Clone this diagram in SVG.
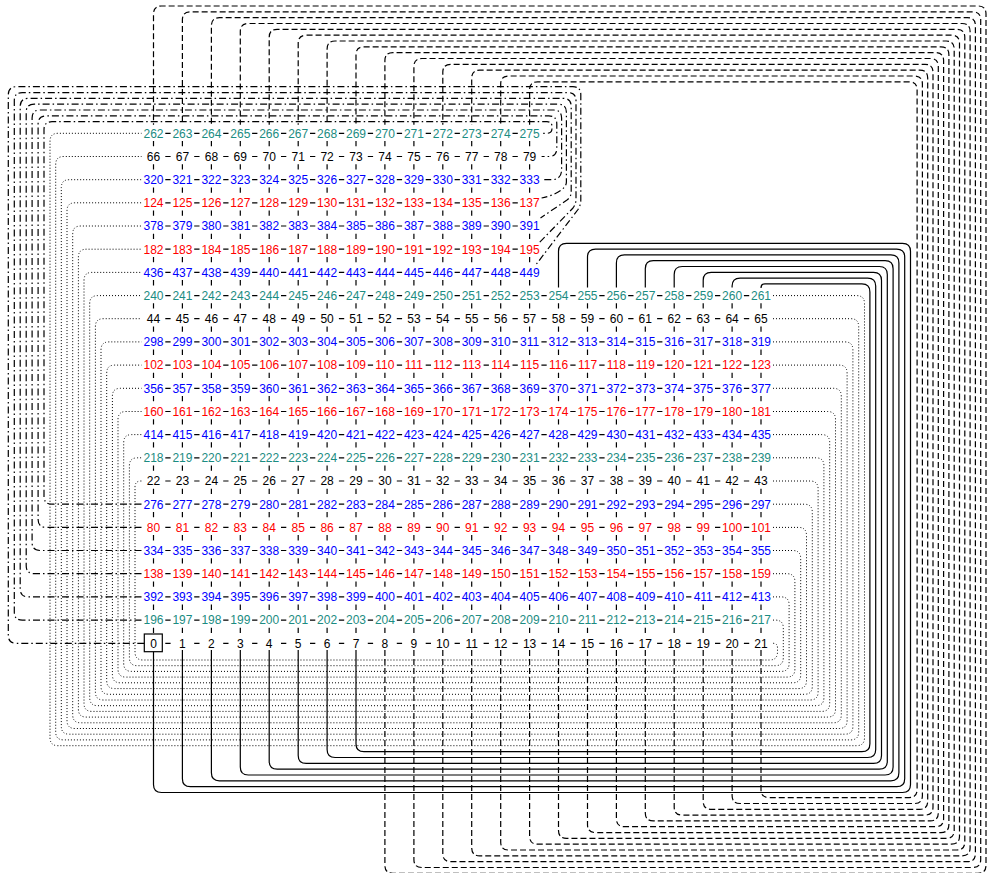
<svg xmlns="http://www.w3.org/2000/svg" width="990" height="873" viewBox="0 0 990 873">
<style>
.l{fill:none;stroke:#000;stroke-width:1.2}
.d{stroke-dasharray:6 3}
.dd{stroke-dasharray:7 3 1.5 3}
.o{stroke-dasharray:1 2;stroke-width:1}
text{font-family:"Liberation Sans",Arial,sans-serif;font-size:12px;text-anchor:middle}
.k{fill:#000}.r{fill:#f00}.b{fill:#00f}.t{fill:#1b8c82}
</style>
<defs>
<path id="h14" d="M165.3 0h5.3M194.2 0h5.3M223.2 0h5.3M252.1 0h5.3M281 0h5.3M310 0h5.3M338.9 0h5.3M367.8 0h5.3M396.8 0h5.3M425.7 0h5.3M454.6 0h5.3M483.6 0h5.3M512.5 0h5.3"/>
<path id="h22" d="M165.3 0h5.3M194.2 0h5.3M223.2 0h5.3M252.1 0h5.3M281 0h5.3M310 0h5.3M338.9 0h5.3M367.8 0h5.3M396.8 0h5.3M425.7 0h5.3M454.6 0h5.3M483.6 0h5.3M512.5 0h5.3M541.4 0h5.3M570.3 0h5.3M599.3 0h5.3M628.2 0h5.3M657.1 0h5.3M686.1 0h5.3M715 0h5.3M743.9 0h5.3"/>
<path id="v14" d="M153.5 0v5.3M182.4 0v5.3M211.4 0v5.3M240.3 0v5.3M269.2 0v5.3M298.2 0v5.3M327.1 0v5.3M356 0v5.3M384.9 0v5.3M413.9 0v5.3M442.8 0v5.3M471.7 0v5.3M500.7 0v5.3M529.6 0v5.3"/>
<path id="v22" d="M153.5 0v5.3M182.4 0v5.3M211.4 0v5.3M240.3 0v5.3M269.2 0v5.3M298.2 0v5.3M327.1 0v5.3M356 0v5.3M384.9 0v5.3M413.9 0v5.3M442.8 0v5.3M471.7 0v5.3M500.7 0v5.3M529.6 0v5.3M558.5 0v5.3M587.5 0v5.3M616.4 0v5.3M645.3 0v5.3M674.2 0v5.3M703.2 0v5.3M732.1 0v5.3M761 0v5.3"/>
</defs>
<rect width="990" height="873" fill="#fff"/>
<g id="connectors" class="l">
<g id="ticks">
<use href="#h14" y="133.3"/><use href="#h14" y="156.5"/><use href="#h14" y="179.7"/><use href="#h14" y="202.8"/><use href="#h14" y="226"/><use href="#h14" y="249.2"/><use href="#h14" y="272.4"/>
<use href="#h22" y="295.6"/><use href="#h22" y="318.7"/><use href="#h22" y="341.9"/><use href="#h22" y="365.1"/><use href="#h22" y="388.3"/><use href="#h22" y="411.5"/><use href="#h22" y="434.6"/><use href="#h22" y="457.8"/><use href="#h22" y="481"/><use href="#h22" y="504.2"/><use href="#h22" y="527.4"/><use href="#h22" y="550.5"/><use href="#h22" y="573.7"/><use href="#h22" y="596.9"/><use href="#h22" y="620.1"/><use href="#h22" y="643.3"/>
<use href="#v14" y="141"/><use href="#v14" y="164.2"/><use href="#v14" y="187.4"/><use href="#v14" y="210.5"/><use href="#v14" y="233.7"/><use href="#v14" y="256.9"/><use href="#v14" y="280.1"/>
<use href="#v22" y="303.3"/><use href="#v22" y="326.4"/><use href="#v22" y="349.6"/><use href="#v22" y="372.8"/><use href="#v22" y="396"/><use href="#v22" y="419.2"/><use href="#v22" y="442.3"/><use href="#v22" y="465.5"/><use href="#v22" y="488.7"/><use href="#v22" y="511.9"/><use href="#v22" y="535.1"/><use href="#v22" y="558.2"/><use href="#v22" y="581.4"/><use href="#v22" y="604.6"/><use href="#v22" y="627.8"/>
</g>
<g id="solid">
<path d="M153.5 651.7V784.5Q153.5 792.5 161.5 792.5H902.5Q910.5 792.5 910.5 784.5V251.3Q910.5 243.3 902.5 243.3H566.5Q558.5 243.3 558.5 251.3V287.5"/>
<path d="M182.4 650V778.7Q182.4 786.7 190.4 786.7H896.7Q904.7 786.7 904.7 778.7V257.1Q904.7 249.1 896.7 249.1H595.5Q587.5 249.1 587.5 257.1V287.5"/>
<path d="M211.4 650V772.8Q211.4 780.8 219.4 780.8H890.9Q898.9 780.8 898.9 772.8V262.9Q898.9 254.9 890.9 254.9H624.4Q616.4 254.9 616.4 262.9V287.5"/>
<path d="M240.3 650V767Q240.3 775 248.3 775H885.1Q893.1 775 893.1 767V268.7Q893.1 260.7 885.1 260.7H653.3Q645.3 260.7 645.3 268.7V287.5"/>
<path d="M269.2 650V761.2Q269.2 769.2 277.2 769.2H879.3Q887.3 769.2 887.3 761.2V274.5Q887.3 266.5 879.3 266.5H682.2Q674.2 266.5 674.2 274.5V287.5"/>
<path d="M298.2 650V755.4Q298.2 763.4 306.2 763.4H873.5Q881.5 763.4 881.5 755.4V280.3Q881.5 272.3 873.5 272.3H711.2Q703.2 272.3 703.2 280.3V287.5"/>
<path d="M327.1 650V749.5Q327.1 757.5 335.1 757.5H867.7Q875.7 757.5 875.7 749.5V286.1Q875.7 278.1 867.7 278.1H740.1Q732.1 278.1 732.1 286.1V287.5"/>
<path d="M356 650V743.7Q356 751.7 364 751.7H861.9Q869.9 751.7 869.9 743.7V291.9Q869.9 283.9 861.9 283.9H765Q761 283.9 761 287.9V288"/>
</g>
<g id="dashed" class="d">
<path d="M384.9 650V865.3Q384.9 873.3 392.9 873.3H978Q986 873.3 986 865.3V14Q986 6 978 6H161.5Q153.5 6 153.5 14V124.8"/>
<path d="M413.9 650V859.5Q413.9 867.5 421.9 867.5H972.7Q980.7 867.5 980.7 859.5V19.8Q980.7 11.8 972.7 11.8H190.4Q182.4 11.8 182.4 19.8V124.8"/>
<path d="M442.8 650V853.7Q442.8 861.7 450.8 861.7H967.4Q975.4 861.7 975.4 853.7V25.7Q975.4 17.7 967.4 17.7H219.4Q211.4 17.7 211.4 25.7V124.8"/>
<path d="M471.7 650V847.8Q471.7 855.8 479.7 855.8H962.1Q970.1 855.8 970.1 847.8V31.5Q970.1 23.5 962.1 23.5H248.3Q240.3 23.5 240.3 31.5V124.8"/>
<path d="M500.7 650V842Q500.7 850 508.7 850H956.8Q964.8 850 964.8 842V37.3Q964.8 29.3 956.8 29.3H277.2Q269.2 29.3 269.2 37.3V124.8"/>
<path d="M529.6 650V836.2Q529.6 844.2 537.6 844.2H951.5Q959.5 844.2 959.5 836.2V43.2Q959.5 35.2 951.5 35.2H306.2Q298.2 35.2 298.2 43.2V124.8"/>
<path d="M558.5 650V830.4Q558.5 838.4 566.5 838.4H946.2Q954.2 838.4 954.2 830.4V49Q954.2 41 946.2 41H335.1Q327.1 41 327.1 49V124.8"/>
<path d="M587.5 650V824.6Q587.5 832.6 595.5 832.6H940.9Q948.9 832.6 948.9 824.6V54.8Q948.9 46.8 940.9 46.8H364Q356 46.8 356 54.8V124.8"/>
<path d="M616.4 650V818.7Q616.4 826.7 624.4 826.7H935.6Q943.6 826.7 943.6 818.7V60.6Q943.6 52.6 935.6 52.6H392.9Q384.9 52.6 384.9 60.6V124.8"/>
<path d="M645.3 650V812.9Q645.3 820.9 653.3 820.9H930.3Q938.3 820.9 938.3 812.9V66.5Q938.3 58.5 930.3 58.5H421.9Q413.9 58.5 413.9 66.5V124.8"/>
<path d="M674.2 650V807.1Q674.2 815.1 682.2 815.1H925Q933 815.1 933 807.1V72.3Q933 64.3 925 64.3H450.8Q442.8 64.3 442.8 72.3V124.8"/>
<path d="M703.2 650V801.3Q703.2 809.3 711.2 809.3H919.7Q927.7 809.3 927.7 801.3V78.1Q927.7 70.1 919.7 70.1H479.7Q471.7 70.1 471.7 78.1V124.8"/>
<path d="M732.1 650V795.5Q732.1 803.5 740.1 803.5H914.4Q922.4 803.5 922.4 795.5V84Q922.4 76 914.4 76H508.7Q500.7 76 500.7 84V124.8"/>
<path d="M761 650V789.6Q761 797.6 769 797.6H909.1Q917.1 797.6 917.1 789.6V89.8Q917.1 81.8 909.1 81.8H537.6Q529.6 81.8 529.6 89.8V124.8"/>
</g>
<g id="dashdot" class="dd">
<path d="M141.5 504.2H52Q44 504.2 44 496.2V129.7Q44 121.7 52 121.7H547Q552 121.7 552 126.7V128.3Q552 133.3 547 133.3H541.6"/>
<path d="M141.5 527.4H46.1Q38.1 527.4 38.1 519.4V123.9Q38.1 115.9 46.1 115.9H548.8Q556.8 115.9 556.8 123.9V148.5Q556.8 156.5 548.8 156.5H541.6"/>
<path d="M141.5 550.5H40.1Q32.1 550.5 32.1 542.5V118Q32.1 110 40.1 110H553.6Q561.6 110 561.6 118V169.7Q561.6 179.7 551.6 179.7H541.6"/>
<path d="M141.5 573.7H34.2Q26.2 573.7 26.2 565.7V112.2Q26.2 104.2 34.2 104.2H558.4Q566.4 104.2 566.4 112.2V182C566.4 190 552 196 541.6 198"/>
<path d="M141.5 596.9H28.2Q20.2 596.9 20.2 588.9V106.4Q20.2 98.4 28.2 98.4H563.2Q571.2 98.4 571.2 106.4V192Q571.2 197 567 200L540.5 218"/>
<path d="M141.5 620.1H22.3Q14.3 620.1 14.3 612.1V100.6Q14.3 92.6 22.3 92.6H568Q576 92.6 576 100.6V199Q576 204 573 208L538 244"/>
<path d="M144.3 643.3H16.3Q8.3 643.3 8.3 635.3V94.7Q8.3 86.7 16.3 86.7H572.8Q580.8 86.7 580.8 94.7V200Q580.8 205 578 209.5L536.5 264"/>
</g>
<g id="dotted" class="o">
<path d="M773 295.6H856.5Q864.5 295.6 864.5 303.6V737.7Q864.5 745.7 856.5 745.7H58Q50 745.7 50 737.7V141.3Q50 133.3 58 133.3H141.5"/>
<path d="M773 318.7H850.7Q858.7 318.7 858.7 326.7V731.9Q858.7 739.9 850.7 739.9H63.7Q55.7 739.9 55.7 731.9V164.5Q55.7 156.5 63.7 156.5H141.5"/>
<path d="M773 341.9H844.9Q852.9 341.9 852.9 349.9V726.2Q852.9 734.2 844.9 734.2H69.3Q61.3 734.2 61.3 726.2V187.7Q61.3 179.7 69.3 179.7H141.5"/>
<path d="M773 365.1H839.1Q847.1 365.1 847.1 373.1V720.5Q847.1 728.5 839.1 728.5H75Q67 728.5 67 720.5V210.8Q67 202.8 75 202.8H141.5"/>
<path d="M773 388.3H833.3Q841.3 388.3 841.3 396.3V714.8Q841.3 722.8 833.3 722.8H80.7Q72.7 722.8 72.7 714.8V234Q72.7 226 80.7 226H141.5"/>
<path d="M773 411.5H827.5Q835.5 411.5 835.5 419.5V709.1Q835.5 717.1 827.5 717.1H86.4Q78.4 717.1 78.4 709.1V257.2Q78.4 249.2 86.4 249.2H141.5"/>
<path d="M773 434.6H821.7Q829.7 434.6 829.7 442.6V703.4Q829.7 711.4 821.7 711.4H92Q84 711.4 84 703.4V280.4Q84 272.4 92 272.4H141.5"/>
<path d="M773 457.8H815.9Q823.9 457.8 823.9 465.8V697.7Q823.9 705.7 815.9 705.7H97.7Q89.7 705.7 89.7 697.7V303.6Q89.7 295.6 97.7 295.6H141.5"/>
<path d="M773 481H810.1Q818.1 481 818.1 489V692Q818.1 700 810.1 700H103.4Q95.4 700 95.4 692V326.7Q95.4 318.7 103.4 318.7H141.5"/>
<path d="M773 504.2H804.3Q812.3 504.2 812.3 512.2V686.3Q812.3 694.3 804.3 694.3H109Q101 694.3 101 686.3V349.9Q101 341.9 109 341.9H141.5"/>
<path d="M773 527.4H798.5Q806.5 527.4 806.5 535.4V680.6Q806.5 688.6 798.5 688.6H114.7Q106.7 688.6 106.7 680.6V373.1Q106.7 365.1 114.7 365.1H141.5"/>
<path d="M773 550.5H792.7Q800.7 550.5 800.7 558.5V674.8Q800.7 682.8 792.7 682.8H120.4Q112.4 682.8 112.4 674.8V396.3Q112.4 388.3 120.4 388.3H141.5"/>
<path d="M773 573.7H786.9Q794.9 573.7 794.9 581.7V669.1Q794.9 677.1 786.9 677.1H126Q118 677.1 118 669.1V419.5Q118 411.5 126 411.5H141.5"/>
<path d="M773 596.9H781.1Q789.1 596.9 789.1 604.9V663.4Q789.1 671.4 781.1 671.4H131.7Q123.7 671.4 123.7 663.4V442.6Q123.7 434.6 131.7 434.6H141.5"/>
<path d="M773 620.1H775.3Q783.3 620.1 783.3 628.1V657.7Q783.3 665.7 775.3 665.7H137.4Q129.4 665.7 129.4 657.7V465.8Q129.4 457.8 137.4 457.8H141.5"/>
<path d="M773 643.3Q777.5 643.3 777.5 647.8V652Q777.5 660 769.5 660H143Q135 660 135 652V487Q135 481 141 481H141.5"/>
</g>
</g>
<g id="nodes">
<g class="t" transform="translate(0,137.6)"><g id="n262"><text x="153.5">262</text></g><g id="n263"><text x="182.4">263</text></g><g id="n264"><text x="211.4">264</text></g><g id="n265"><text x="240.3">265</text></g><g id="n266"><text x="269.2">266</text></g><g id="n267"><text x="298.2">267</text></g><g id="n268"><text x="327.1">268</text></g><g id="n269"><text x="356">269</text></g><g id="n270"><text x="384.9">270</text></g><g id="n271"><text x="413.9">271</text></g><g id="n272"><text x="442.8">272</text></g><g id="n273"><text x="471.7">273</text></g><g id="n274"><text x="500.7">274</text></g><g id="n275"><text x="529.6">275</text></g></g>
<g class="k" transform="translate(0,160.8)"><g id="n66"><text x="153.5">66</text></g><g id="n67"><text x="182.4">67</text></g><g id="n68"><text x="211.4">68</text></g><g id="n69"><text x="240.3">69</text></g><g id="n70"><text x="269.2">70</text></g><g id="n71"><text x="298.2">71</text></g><g id="n72"><text x="327.1">72</text></g><g id="n73"><text x="356">73</text></g><g id="n74"><text x="384.9">74</text></g><g id="n75"><text x="413.9">75</text></g><g id="n76"><text x="442.8">76</text></g><g id="n77"><text x="471.7">77</text></g><g id="n78"><text x="500.7">78</text></g><g id="n79"><text x="529.6">79</text></g></g>
<g class="b" transform="translate(0,184)"><g id="n320"><text x="153.5">320</text></g><g id="n321"><text x="182.4">321</text></g><g id="n322"><text x="211.4">322</text></g><g id="n323"><text x="240.3">323</text></g><g id="n324"><text x="269.2">324</text></g><g id="n325"><text x="298.2">325</text></g><g id="n326"><text x="327.1">326</text></g><g id="n327"><text x="356">327</text></g><g id="n328"><text x="384.9">328</text></g><g id="n329"><text x="413.9">329</text></g><g id="n330"><text x="442.8">330</text></g><g id="n331"><text x="471.7">331</text></g><g id="n332"><text x="500.7">332</text></g><g id="n333"><text x="529.6">333</text></g></g>
<g class="r" transform="translate(0,207.1)"><g id="n124"><text x="153.5">124</text></g><g id="n125"><text x="182.4">125</text></g><g id="n126"><text x="211.4">126</text></g><g id="n127"><text x="240.3">127</text></g><g id="n128"><text x="269.2">128</text></g><g id="n129"><text x="298.2">129</text></g><g id="n130"><text x="327.1">130</text></g><g id="n131"><text x="356">131</text></g><g id="n132"><text x="384.9">132</text></g><g id="n133"><text x="413.9">133</text></g><g id="n134"><text x="442.8">134</text></g><g id="n135"><text x="471.7">135</text></g><g id="n136"><text x="500.7">136</text></g><g id="n137"><text x="529.6">137</text></g></g>
<g class="b" transform="translate(0,230.3)"><g id="n378"><text x="153.5">378</text></g><g id="n379"><text x="182.4">379</text></g><g id="n380"><text x="211.4">380</text></g><g id="n381"><text x="240.3">381</text></g><g id="n382"><text x="269.2">382</text></g><g id="n383"><text x="298.2">383</text></g><g id="n384"><text x="327.1">384</text></g><g id="n385"><text x="356">385</text></g><g id="n386"><text x="384.9">386</text></g><g id="n387"><text x="413.9">387</text></g><g id="n388"><text x="442.8">388</text></g><g id="n389"><text x="471.7">389</text></g><g id="n390"><text x="500.7">390</text></g><g id="n391"><text x="529.6">391</text></g></g>
<g class="r" transform="translate(0,253.5)"><g id="n182"><text x="153.5">182</text></g><g id="n183"><text x="182.4">183</text></g><g id="n184"><text x="211.4">184</text></g><g id="n185"><text x="240.3">185</text></g><g id="n186"><text x="269.2">186</text></g><g id="n187"><text x="298.2">187</text></g><g id="n188"><text x="327.1">188</text></g><g id="n189"><text x="356">189</text></g><g id="n190"><text x="384.9">190</text></g><g id="n191"><text x="413.9">191</text></g><g id="n192"><text x="442.8">192</text></g><g id="n193"><text x="471.7">193</text></g><g id="n194"><text x="500.7">194</text></g><g id="n195"><text x="529.6">195</text></g></g>
<g class="b" transform="translate(0,276.7)"><g id="n436"><text x="153.5">436</text></g><g id="n437"><text x="182.4">437</text></g><g id="n438"><text x="211.4">438</text></g><g id="n439"><text x="240.3">439</text></g><g id="n440"><text x="269.2">440</text></g><g id="n441"><text x="298.2">441</text></g><g id="n442"><text x="327.1">442</text></g><g id="n443"><text x="356">443</text></g><g id="n444"><text x="384.9">444</text></g><g id="n445"><text x="413.9">445</text></g><g id="n446"><text x="442.8">446</text></g><g id="n447"><text x="471.7">447</text></g><g id="n448"><text x="500.7">448</text></g><g id="n449"><text x="529.6">449</text></g></g>
<g class="t" transform="translate(0,299.9)"><g id="n240"><text x="153.5">240</text></g><g id="n241"><text x="182.4">241</text></g><g id="n242"><text x="211.4">242</text></g><g id="n243"><text x="240.3">243</text></g><g id="n244"><text x="269.2">244</text></g><g id="n245"><text x="298.2">245</text></g><g id="n246"><text x="327.1">246</text></g><g id="n247"><text x="356">247</text></g><g id="n248"><text x="384.9">248</text></g><g id="n249"><text x="413.9">249</text></g><g id="n250"><text x="442.8">250</text></g><g id="n251"><text x="471.7">251</text></g><g id="n252"><text x="500.7">252</text></g><g id="n253"><text x="529.6">253</text></g><g id="n254"><text x="558.5">254</text></g><g id="n255"><text x="587.5">255</text></g><g id="n256"><text x="616.4">256</text></g><g id="n257"><text x="645.3">257</text></g><g id="n258"><text x="674.2">258</text></g><g id="n259"><text x="703.2">259</text></g><g id="n260"><text x="732.1">260</text></g><g id="n261"><text x="761">261</text></g></g>
<g class="k" transform="translate(0,323)"><g id="n44"><text x="153.5">44</text></g><g id="n45"><text x="182.4">45</text></g><g id="n46"><text x="211.4">46</text></g><g id="n47"><text x="240.3">47</text></g><g id="n48"><text x="269.2">48</text></g><g id="n49"><text x="298.2">49</text></g><g id="n50"><text x="327.1">50</text></g><g id="n51"><text x="356">51</text></g><g id="n52"><text x="384.9">52</text></g><g id="n53"><text x="413.9">53</text></g><g id="n54"><text x="442.8">54</text></g><g id="n55"><text x="471.7">55</text></g><g id="n56"><text x="500.7">56</text></g><g id="n57"><text x="529.6">57</text></g><g id="n58"><text x="558.5">58</text></g><g id="n59"><text x="587.5">59</text></g><g id="n60"><text x="616.4">60</text></g><g id="n61"><text x="645.3">61</text></g><g id="n62"><text x="674.2">62</text></g><g id="n63"><text x="703.2">63</text></g><g id="n64"><text x="732.1">64</text></g><g id="n65"><text x="761">65</text></g></g>
<g class="b" transform="translate(0,346.2)"><g id="n298"><text x="153.5">298</text></g><g id="n299"><text x="182.4">299</text></g><g id="n300"><text x="211.4">300</text></g><g id="n301"><text x="240.3">301</text></g><g id="n302"><text x="269.2">302</text></g><g id="n303"><text x="298.2">303</text></g><g id="n304"><text x="327.1">304</text></g><g id="n305"><text x="356">305</text></g><g id="n306"><text x="384.9">306</text></g><g id="n307"><text x="413.9">307</text></g><g id="n308"><text x="442.8">308</text></g><g id="n309"><text x="471.7">309</text></g><g id="n310"><text x="500.7">310</text></g><g id="n311"><text x="529.6">311</text></g><g id="n312"><text x="558.5">312</text></g><g id="n313"><text x="587.5">313</text></g><g id="n314"><text x="616.4">314</text></g><g id="n315"><text x="645.3">315</text></g><g id="n316"><text x="674.2">316</text></g><g id="n317"><text x="703.2">317</text></g><g id="n318"><text x="732.1">318</text></g><g id="n319"><text x="761">319</text></g></g>
<g class="r" transform="translate(0,369.4)"><g id="n102"><text x="153.5">102</text></g><g id="n103"><text x="182.4">103</text></g><g id="n104"><text x="211.4">104</text></g><g id="n105"><text x="240.3">105</text></g><g id="n106"><text x="269.2">106</text></g><g id="n107"><text x="298.2">107</text></g><g id="n108"><text x="327.1">108</text></g><g id="n109"><text x="356">109</text></g><g id="n110"><text x="384.9">110</text></g><g id="n111"><text x="413.9">111</text></g><g id="n112"><text x="442.8">112</text></g><g id="n113"><text x="471.7">113</text></g><g id="n114"><text x="500.7">114</text></g><g id="n115"><text x="529.6">115</text></g><g id="n116"><text x="558.5">116</text></g><g id="n117"><text x="587.5">117</text></g><g id="n118"><text x="616.4">118</text></g><g id="n119"><text x="645.3">119</text></g><g id="n120"><text x="674.2">120</text></g><g id="n121"><text x="703.2">121</text></g><g id="n122"><text x="732.1">122</text></g><g id="n123"><text x="761">123</text></g></g>
<g class="b" transform="translate(0,392.6)"><g id="n356"><text x="153.5">356</text></g><g id="n357"><text x="182.4">357</text></g><g id="n358"><text x="211.4">358</text></g><g id="n359"><text x="240.3">359</text></g><g id="n360"><text x="269.2">360</text></g><g id="n361"><text x="298.2">361</text></g><g id="n362"><text x="327.1">362</text></g><g id="n363"><text x="356">363</text></g><g id="n364"><text x="384.9">364</text></g><g id="n365"><text x="413.9">365</text></g><g id="n366"><text x="442.8">366</text></g><g id="n367"><text x="471.7">367</text></g><g id="n368"><text x="500.7">368</text></g><g id="n369"><text x="529.6">369</text></g><g id="n370"><text x="558.5">370</text></g><g id="n371"><text x="587.5">371</text></g><g id="n372"><text x="616.4">372</text></g><g id="n373"><text x="645.3">373</text></g><g id="n374"><text x="674.2">374</text></g><g id="n375"><text x="703.2">375</text></g><g id="n376"><text x="732.1">376</text></g><g id="n377"><text x="761">377</text></g></g>
<g class="r" transform="translate(0,415.8)"><g id="n160"><text x="153.5">160</text></g><g id="n161"><text x="182.4">161</text></g><g id="n162"><text x="211.4">162</text></g><g id="n163"><text x="240.3">163</text></g><g id="n164"><text x="269.2">164</text></g><g id="n165"><text x="298.2">165</text></g><g id="n166"><text x="327.1">166</text></g><g id="n167"><text x="356">167</text></g><g id="n168"><text x="384.9">168</text></g><g id="n169"><text x="413.9">169</text></g><g id="n170"><text x="442.8">170</text></g><g id="n171"><text x="471.7">171</text></g><g id="n172"><text x="500.7">172</text></g><g id="n173"><text x="529.6">173</text></g><g id="n174"><text x="558.5">174</text></g><g id="n175"><text x="587.5">175</text></g><g id="n176"><text x="616.4">176</text></g><g id="n177"><text x="645.3">177</text></g><g id="n178"><text x="674.2">178</text></g><g id="n179"><text x="703.2">179</text></g><g id="n180"><text x="732.1">180</text></g><g id="n181"><text x="761">181</text></g></g>
<g class="b" transform="translate(0,438.9)"><g id="n414"><text x="153.5">414</text></g><g id="n415"><text x="182.4">415</text></g><g id="n416"><text x="211.4">416</text></g><g id="n417"><text x="240.3">417</text></g><g id="n418"><text x="269.2">418</text></g><g id="n419"><text x="298.2">419</text></g><g id="n420"><text x="327.1">420</text></g><g id="n421"><text x="356">421</text></g><g id="n422"><text x="384.9">422</text></g><g id="n423"><text x="413.9">423</text></g><g id="n424"><text x="442.8">424</text></g><g id="n425"><text x="471.7">425</text></g><g id="n426"><text x="500.7">426</text></g><g id="n427"><text x="529.6">427</text></g><g id="n428"><text x="558.5">428</text></g><g id="n429"><text x="587.5">429</text></g><g id="n430"><text x="616.4">430</text></g><g id="n431"><text x="645.3">431</text></g><g id="n432"><text x="674.2">432</text></g><g id="n433"><text x="703.2">433</text></g><g id="n434"><text x="732.1">434</text></g><g id="n435"><text x="761">435</text></g></g>
<g class="t" transform="translate(0,462.1)"><g id="n218"><text x="153.5">218</text></g><g id="n219"><text x="182.4">219</text></g><g id="n220"><text x="211.4">220</text></g><g id="n221"><text x="240.3">221</text></g><g id="n222"><text x="269.2">222</text></g><g id="n223"><text x="298.2">223</text></g><g id="n224"><text x="327.1">224</text></g><g id="n225"><text x="356">225</text></g><g id="n226"><text x="384.9">226</text></g><g id="n227"><text x="413.9">227</text></g><g id="n228"><text x="442.8">228</text></g><g id="n229"><text x="471.7">229</text></g><g id="n230"><text x="500.7">230</text></g><g id="n231"><text x="529.6">231</text></g><g id="n232"><text x="558.5">232</text></g><g id="n233"><text x="587.5">233</text></g><g id="n234"><text x="616.4">234</text></g><g id="n235"><text x="645.3">235</text></g><g id="n236"><text x="674.2">236</text></g><g id="n237"><text x="703.2">237</text></g><g id="n238"><text x="732.1">238</text></g><g id="n239"><text x="761">239</text></g></g>
<g class="k" transform="translate(0,485.3)"><g id="n22"><text x="153.5">22</text></g><g id="n23"><text x="182.4">23</text></g><g id="n24"><text x="211.4">24</text></g><g id="n25"><text x="240.3">25</text></g><g id="n26"><text x="269.2">26</text></g><g id="n27"><text x="298.2">27</text></g><g id="n28"><text x="327.1">28</text></g><g id="n29"><text x="356">29</text></g><g id="n30"><text x="384.9">30</text></g><g id="n31"><text x="413.9">31</text></g><g id="n32"><text x="442.8">32</text></g><g id="n33"><text x="471.7">33</text></g><g id="n34"><text x="500.7">34</text></g><g id="n35"><text x="529.6">35</text></g><g id="n36"><text x="558.5">36</text></g><g id="n37"><text x="587.5">37</text></g><g id="n38"><text x="616.4">38</text></g><g id="n39"><text x="645.3">39</text></g><g id="n40"><text x="674.2">40</text></g><g id="n41"><text x="703.2">41</text></g><g id="n42"><text x="732.1">42</text></g><g id="n43"><text x="761">43</text></g></g>
<g class="b" transform="translate(0,508.5)"><g id="n276"><text x="153.5">276</text></g><g id="n277"><text x="182.4">277</text></g><g id="n278"><text x="211.4">278</text></g><g id="n279"><text x="240.3">279</text></g><g id="n280"><text x="269.2">280</text></g><g id="n281"><text x="298.2">281</text></g><g id="n282"><text x="327.1">282</text></g><g id="n283"><text x="356">283</text></g><g id="n284"><text x="384.9">284</text></g><g id="n285"><text x="413.9">285</text></g><g id="n286"><text x="442.8">286</text></g><g id="n287"><text x="471.7">287</text></g><g id="n288"><text x="500.7">288</text></g><g id="n289"><text x="529.6">289</text></g><g id="n290"><text x="558.5">290</text></g><g id="n291"><text x="587.5">291</text></g><g id="n292"><text x="616.4">292</text></g><g id="n293"><text x="645.3">293</text></g><g id="n294"><text x="674.2">294</text></g><g id="n295"><text x="703.2">295</text></g><g id="n296"><text x="732.1">296</text></g><g id="n297"><text x="761">297</text></g></g>
<g class="r" transform="translate(0,531.7)"><g id="n80"><text x="153.5">80</text></g><g id="n81"><text x="182.4">81</text></g><g id="n82"><text x="211.4">82</text></g><g id="n83"><text x="240.3">83</text></g><g id="n84"><text x="269.2">84</text></g><g id="n85"><text x="298.2">85</text></g><g id="n86"><text x="327.1">86</text></g><g id="n87"><text x="356">87</text></g><g id="n88"><text x="384.9">88</text></g><g id="n89"><text x="413.9">89</text></g><g id="n90"><text x="442.8">90</text></g><g id="n91"><text x="471.7">91</text></g><g id="n92"><text x="500.7">92</text></g><g id="n93"><text x="529.6">93</text></g><g id="n94"><text x="558.5">94</text></g><g id="n95"><text x="587.5">95</text></g><g id="n96"><text x="616.4">96</text></g><g id="n97"><text x="645.3">97</text></g><g id="n98"><text x="674.2">98</text></g><g id="n99"><text x="703.2">99</text></g><g id="n100"><text x="732.1">100</text></g><g id="n101"><text x="761">101</text></g></g>
<g class="b" transform="translate(0,554.8)"><g id="n334"><text x="153.5">334</text></g><g id="n335"><text x="182.4">335</text></g><g id="n336"><text x="211.4">336</text></g><g id="n337"><text x="240.3">337</text></g><g id="n338"><text x="269.2">338</text></g><g id="n339"><text x="298.2">339</text></g><g id="n340"><text x="327.1">340</text></g><g id="n341"><text x="356">341</text></g><g id="n342"><text x="384.9">342</text></g><g id="n343"><text x="413.9">343</text></g><g id="n344"><text x="442.8">344</text></g><g id="n345"><text x="471.7">345</text></g><g id="n346"><text x="500.7">346</text></g><g id="n347"><text x="529.6">347</text></g><g id="n348"><text x="558.5">348</text></g><g id="n349"><text x="587.5">349</text></g><g id="n350"><text x="616.4">350</text></g><g id="n351"><text x="645.3">351</text></g><g id="n352"><text x="674.2">352</text></g><g id="n353"><text x="703.2">353</text></g><g id="n354"><text x="732.1">354</text></g><g id="n355"><text x="761">355</text></g></g>
<g class="r" transform="translate(0,578)"><g id="n138"><text x="153.5">138</text></g><g id="n139"><text x="182.4">139</text></g><g id="n140"><text x="211.4">140</text></g><g id="n141"><text x="240.3">141</text></g><g id="n142"><text x="269.2">142</text></g><g id="n143"><text x="298.2">143</text></g><g id="n144"><text x="327.1">144</text></g><g id="n145"><text x="356">145</text></g><g id="n146"><text x="384.9">146</text></g><g id="n147"><text x="413.9">147</text></g><g id="n148"><text x="442.8">148</text></g><g id="n149"><text x="471.7">149</text></g><g id="n150"><text x="500.7">150</text></g><g id="n151"><text x="529.6">151</text></g><g id="n152"><text x="558.5">152</text></g><g id="n153"><text x="587.5">153</text></g><g id="n154"><text x="616.4">154</text></g><g id="n155"><text x="645.3">155</text></g><g id="n156"><text x="674.2">156</text></g><g id="n157"><text x="703.2">157</text></g><g id="n158"><text x="732.1">158</text></g><g id="n159"><text x="761">159</text></g></g>
<g class="b" transform="translate(0,601.2)"><g id="n392"><text x="153.5">392</text></g><g id="n393"><text x="182.4">393</text></g><g id="n394"><text x="211.4">394</text></g><g id="n395"><text x="240.3">395</text></g><g id="n396"><text x="269.2">396</text></g><g id="n397"><text x="298.2">397</text></g><g id="n398"><text x="327.1">398</text></g><g id="n399"><text x="356">399</text></g><g id="n400"><text x="384.9">400</text></g><g id="n401"><text x="413.9">401</text></g><g id="n402"><text x="442.8">402</text></g><g id="n403"><text x="471.7">403</text></g><g id="n404"><text x="500.7">404</text></g><g id="n405"><text x="529.6">405</text></g><g id="n406"><text x="558.5">406</text></g><g id="n407"><text x="587.5">407</text></g><g id="n408"><text x="616.4">408</text></g><g id="n409"><text x="645.3">409</text></g><g id="n410"><text x="674.2">410</text></g><g id="n411"><text x="703.2">411</text></g><g id="n412"><text x="732.1">412</text></g><g id="n413"><text x="761">413</text></g></g>
<g class="t" transform="translate(0,624.4)"><g id="n196"><text x="153.5">196</text></g><g id="n197"><text x="182.4">197</text></g><g id="n198"><text x="211.4">198</text></g><g id="n199"><text x="240.3">199</text></g><g id="n200"><text x="269.2">200</text></g><g id="n201"><text x="298.2">201</text></g><g id="n202"><text x="327.1">202</text></g><g id="n203"><text x="356">203</text></g><g id="n204"><text x="384.9">204</text></g><g id="n205"><text x="413.9">205</text></g><g id="n206"><text x="442.8">206</text></g><g id="n207"><text x="471.7">207</text></g><g id="n208"><text x="500.7">208</text></g><g id="n209"><text x="529.6">209</text></g><g id="n210"><text x="558.5">210</text></g><g id="n211"><text x="587.5">211</text></g><g id="n212"><text x="616.4">212</text></g><g id="n213"><text x="645.3">213</text></g><g id="n214"><text x="674.2">214</text></g><g id="n215"><text x="703.2">215</text></g><g id="n216"><text x="732.1">216</text></g><g id="n217"><text x="761">217</text></g></g>
<g class="k" transform="translate(0,647.6)"><g id="n0"><rect x="144.3" y="-13.6" width="18" height="17.7" fill="none" stroke="#000" stroke-width="1.2"/><text x="153.5">0</text></g><g id="n1"><text x="182.4">1</text></g><g id="n2"><text x="211.4">2</text></g><g id="n3"><text x="240.3">3</text></g><g id="n4"><text x="269.2">4</text></g><g id="n5"><text x="298.2">5</text></g><g id="n6"><text x="327.1">6</text></g><g id="n7"><text x="356">7</text></g><g id="n8"><text x="384.9">8</text></g><g id="n9"><text x="413.9">9</text></g><g id="n10"><text x="442.8">10</text></g><g id="n11"><text x="471.7">11</text></g><g id="n12"><text x="500.7">12</text></g><g id="n13"><text x="529.6">13</text></g><g id="n14"><text x="558.5">14</text></g><g id="n15"><text x="587.5">15</text></g><g id="n16"><text x="616.4">16</text></g><g id="n17"><text x="645.3">17</text></g><g id="n18"><text x="674.2">18</text></g><g id="n19"><text x="703.2">19</text></g><g id="n20"><text x="732.1">20</text></g><g id="n21"><text x="761">21</text></g></g>
</g>
</svg>
